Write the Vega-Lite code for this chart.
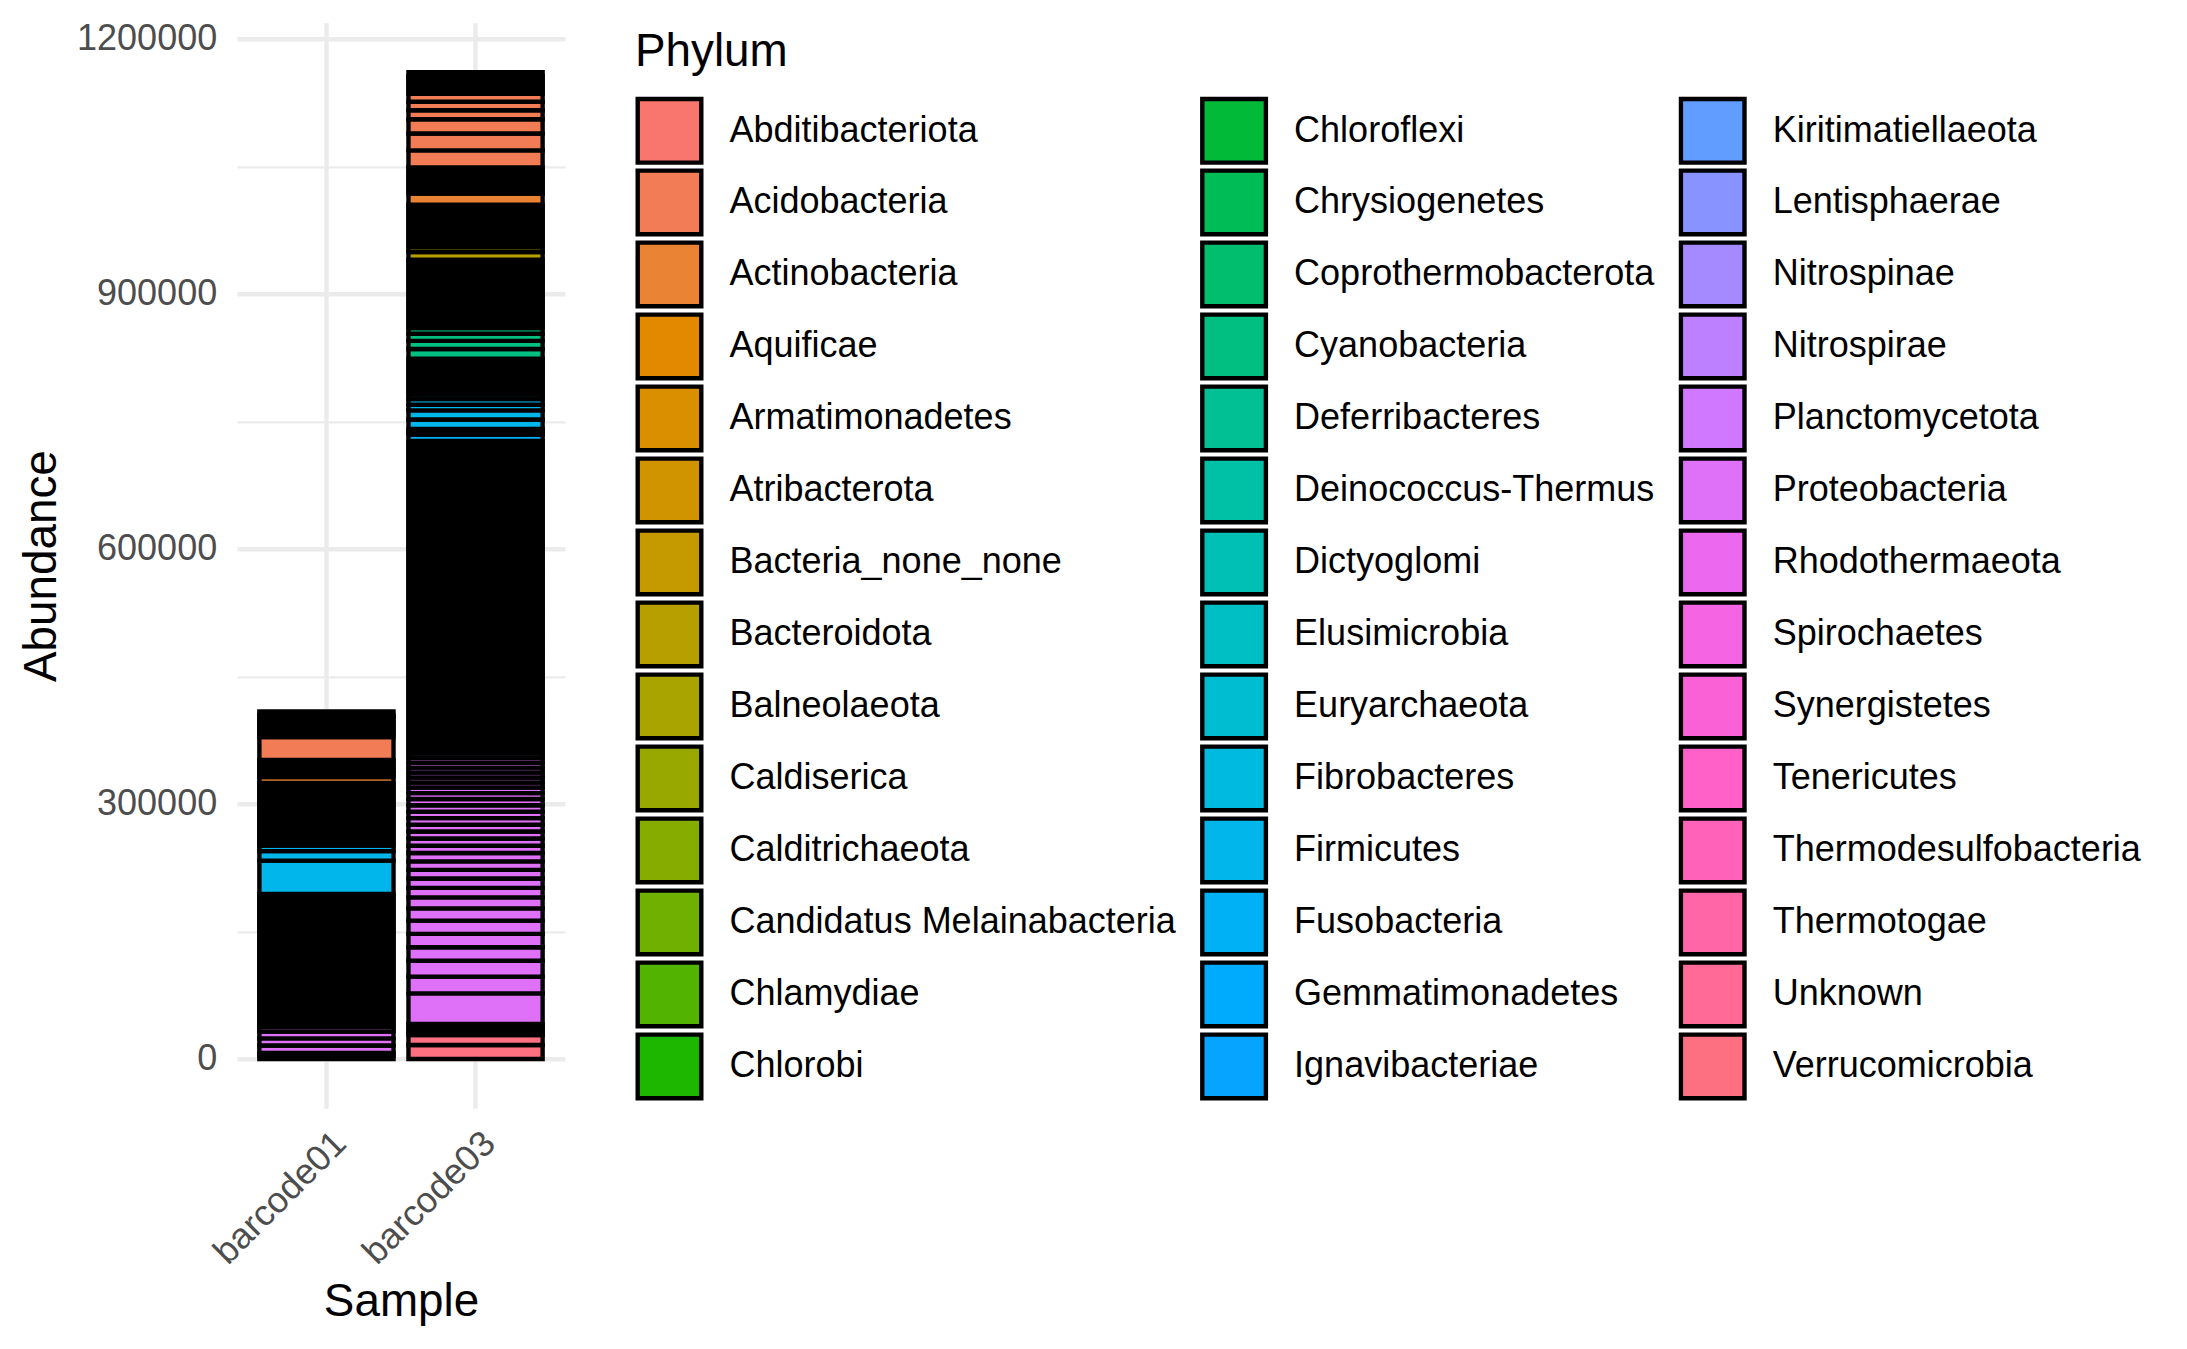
{
"$schema": "https://vega.github.io/schema/vega-lite/v6.json",
"width": 328,
"height": 1085.5,
"autosize": {"type": "none"},
"padding": {"left": 237, "top": 22.8, "right": 1622, "bottom": 240.7},
"background": "white",
"config": {"font": "Liberation Sans", "view": {"stroke": null}},
"data": {"values": [
{"Sample":"barcode03","Phylum":"Verrucomicrobia","Abundance":16353},
{"Sample":"barcode03","Phylum":"Verrucomicrobia","Abundance":11765},
{"Sample":"barcode03","Phylum":"Verrucomicrobia","Abundance":4392},
{"Sample":"barcode03","Phylum":"Unknown","Abundance":4392},
{"Sample":"barcode03","Phylum":"Spirochaetes","Abundance":4392},
{"Sample":"barcode03","Phylum":"Proteobacteria","Abundance":35883},
{"Sample":"barcode03","Phylum":"Proteobacteria","Abundance":19648},
{"Sample":"barcode03","Phylum":"Proteobacteria","Abundance":18706},
{"Sample":"barcode03","Phylum":"Proteobacteria","Abundance":15883},
{"Sample":"barcode03","Phylum":"Proteobacteria","Abundance":15765},
{"Sample":"barcode03","Phylum":"Proteobacteria","Abundance":15530},
{"Sample":"barcode03","Phylum":"Proteobacteria","Abundance":14471},
{"Sample":"barcode03","Phylum":"Proteobacteria","Abundance":12942},
{"Sample":"barcode03","Phylum":"Proteobacteria","Abundance":11177},
{"Sample":"barcode03","Phylum":"Proteobacteria","Abundance":10941},
{"Sample":"barcode03","Phylum":"Proteobacteria","Abundance":10236},
{"Sample":"barcode03","Phylum":"Proteobacteria","Abundance":10000},
{"Sample":"barcode03","Phylum":"Proteobacteria","Abundance":9765},
{"Sample":"barcode03","Phylum":"Proteobacteria","Abundance":8588},
{"Sample":"barcode03","Phylum":"Proteobacteria","Abundance":8471},
{"Sample":"barcode03","Phylum":"Proteobacteria","Abundance":8353},
{"Sample":"barcode03","Phylum":"Proteobacteria","Abundance":7883},
{"Sample":"barcode03","Phylum":"Proteobacteria","Abundance":7765},
{"Sample":"barcode03","Phylum":"Proteobacteria","Abundance":7647},
{"Sample":"barcode03","Phylum":"Proteobacteria","Abundance":7530},
{"Sample":"barcode03","Phylum":"Proteobacteria","Abundance":7412},
{"Sample":"barcode03","Phylum":"Proteobacteria","Abundance":6824},
{"Sample":"barcode03","Phylum":"Proteobacteria","Abundance":6706},
{"Sample":"barcode03","Phylum":"Proteobacteria","Abundance":5883},
{"Sample":"barcode03","Phylum":"Proteobacteria","Abundance":5880},
{"Sample":"barcode03","Phylum":"Proteobacteria","Abundance":5765},
{"Sample":"barcode03","Phylum":"Proteobacteria","Abundance":5760},
{"Sample":"barcode03","Phylum":"Proteobacteria","Abundance":5647},
{"Sample":"barcode03","Phylum":"Proteobacteria","Abundance":5530},
{"Sample":"barcode03","Phylum":"Proteobacteria","Abundance":5412},
{"Sample":"barcode03","Phylum":"Proteobacteria","Abundance":4484},
{"Sample":"barcode03","Phylum":"Proteobacteria","Abundance":4484},
{"Sample":"barcode03","Phylum":"Proteobacteria","Abundance":4484},
{"Sample":"barcode03","Phylum":"Proteobacteria","Abundance":4484},
{"Sample":"barcode03","Phylum":"Proteobacteria","Abundance":4484},
{"Sample":"barcode03","Phylum":"Proteobacteria","Abundance":4484},
{"Sample":"barcode03","Phylum":"Proteobacteria","Abundance":4484},
{"Sample":"barcode03","Phylum":"Proteobacteria","Abundance":4484},
{"Sample":"barcode03","Phylum":"Proteobacteria","Abundance":4484},
{"Sample":"barcode03","Phylum":"Proteobacteria","Abundance":4484},
{"Sample":"barcode03","Phylum":"Proteobacteria","Abundance":4484},
{"Sample":"barcode03","Phylum":"Proteobacteria","Abundance":4484},
{"Sample":"barcode03","Phylum":"Proteobacteria","Abundance":4484},
{"Sample":"barcode03","Phylum":"Proteobacteria","Abundance":4484},
{"Sample":"barcode03","Phylum":"Proteobacteria","Abundance":4484},
{"Sample":"barcode03","Phylum":"Proteobacteria","Abundance":4484},
{"Sample":"barcode03","Phylum":"Proteobacteria","Abundance":4484},
{"Sample":"barcode03","Phylum":"Proteobacteria","Abundance":4484},
{"Sample":"barcode03","Phylum":"Proteobacteria","Abundance":4484},
{"Sample":"barcode03","Phylum":"Proteobacteria","Abundance":4484},
{"Sample":"barcode03","Phylum":"Proteobacteria","Abundance":4484},
{"Sample":"barcode03","Phylum":"Proteobacteria","Abundance":4484},
{"Sample":"barcode03","Phylum":"Proteobacteria","Abundance":4484},
{"Sample":"barcode03","Phylum":"Proteobacteria","Abundance":4484},
{"Sample":"barcode03","Phylum":"Proteobacteria","Abundance":4484},
{"Sample":"barcode03","Phylum":"Proteobacteria","Abundance":4484},
{"Sample":"barcode03","Phylum":"Proteobacteria","Abundance":4484},
{"Sample":"barcode03","Phylum":"Proteobacteria","Abundance":4484},
{"Sample":"barcode03","Phylum":"Proteobacteria","Abundance":4484},
{"Sample":"barcode03","Phylum":"Proteobacteria","Abundance":4484},
{"Sample":"barcode03","Phylum":"Proteobacteria","Abundance":4484},
{"Sample":"barcode03","Phylum":"Proteobacteria","Abundance":4484},
{"Sample":"barcode03","Phylum":"Proteobacteria","Abundance":4484},
{"Sample":"barcode03","Phylum":"Proteobacteria","Abundance":4484},
{"Sample":"barcode03","Phylum":"Proteobacteria","Abundance":4484},
{"Sample":"barcode03","Phylum":"Proteobacteria","Abundance":4484},
{"Sample":"barcode03","Phylum":"Proteobacteria","Abundance":4484},
{"Sample":"barcode03","Phylum":"Proteobacteria","Abundance":4484},
{"Sample":"barcode03","Phylum":"Proteobacteria","Abundance":4484},
{"Sample":"barcode03","Phylum":"Proteobacteria","Abundance":4484},
{"Sample":"barcode03","Phylum":"Proteobacteria","Abundance":4484},
{"Sample":"barcode03","Phylum":"Proteobacteria","Abundance":4484},
{"Sample":"barcode03","Phylum":"Proteobacteria","Abundance":4484},
{"Sample":"barcode03","Phylum":"Proteobacteria","Abundance":4484},
{"Sample":"barcode03","Phylum":"Proteobacteria","Abundance":4484},
{"Sample":"barcode03","Phylum":"Proteobacteria","Abundance":4484},
{"Sample":"barcode03","Phylum":"Proteobacteria","Abundance":4484},
{"Sample":"barcode03","Phylum":"Proteobacteria","Abundance":4484},
{"Sample":"barcode03","Phylum":"Proteobacteria","Abundance":4484},
{"Sample":"barcode03","Phylum":"Proteobacteria","Abundance":4484},
{"Sample":"barcode03","Phylum":"Planctomycetota","Abundance":4484},
{"Sample":"barcode03","Phylum":"Planctomycetota","Abundance":4484},
{"Sample":"barcode03","Phylum":"Planctomycetota","Abundance":4484},
{"Sample":"barcode03","Phylum":"Planctomycetota","Abundance":4484},
{"Sample":"barcode03","Phylum":"Planctomycetota","Abundance":4484},
{"Sample":"barcode03","Phylum":"Planctomycetota","Abundance":4484},
{"Sample":"barcode03","Phylum":"Planctomycetota","Abundance":4484},
{"Sample":"barcode03","Phylum":"Planctomycetota","Abundance":4484},
{"Sample":"barcode03","Phylum":"Nitrospirae","Abundance":4484},
{"Sample":"barcode03","Phylum":"Nitrospirae","Abundance":4484},
{"Sample":"barcode03","Phylum":"Nitrospirae","Abundance":4484},
{"Sample":"barcode03","Phylum":"Nitrospirae","Abundance":4484},
{"Sample":"barcode03","Phylum":"Nitrospirae","Abundance":4484},
{"Sample":"barcode03","Phylum":"Nitrospirae","Abundance":4484},
{"Sample":"barcode03","Phylum":"Nitrospinae","Abundance":4484},
{"Sample":"barcode03","Phylum":"Nitrospinae","Abundance":4484},
{"Sample":"barcode03","Phylum":"Lentisphaerae","Abundance":4484},
{"Sample":"barcode03","Phylum":"Lentisphaerae","Abundance":4484},
{"Sample":"barcode03","Phylum":"Kiritimatiellaeota","Abundance":4484},
{"Sample":"barcode03","Phylum":"Kiritimatiellaeota","Abundance":4484},
{"Sample":"barcode03","Phylum":"Kiritimatiellaeota","Abundance":4484},
{"Sample":"barcode03","Phylum":"Kiritimatiellaeota","Abundance":4484},
{"Sample":"barcode03","Phylum":"Ignavibacteriae","Abundance":4484},
{"Sample":"barcode03","Phylum":"Ignavibacteriae","Abundance":4484},
{"Sample":"barcode03","Phylum":"Ignavibacteriae","Abundance":4484},
{"Sample":"barcode03","Phylum":"Ignavibacteriae","Abundance":4484},
{"Sample":"barcode03","Phylum":"Gemmatimonadetes","Abundance":4484},
{"Sample":"barcode03","Phylum":"Gemmatimonadetes","Abundance":4484},
{"Sample":"barcode03","Phylum":"Gemmatimonadetes","Abundance":4484},
{"Sample":"barcode03","Phylum":"Gemmatimonadetes","Abundance":4484},
{"Sample":"barcode03","Phylum":"Gemmatimonadetes","Abundance":4484},
{"Sample":"barcode03","Phylum":"Gemmatimonadetes","Abundance":4484},
{"Sample":"barcode03","Phylum":"Fusobacteria","Abundance":7530},
{"Sample":"barcode03","Phylum":"Fusobacteria","Abundance":3294},
{"Sample":"barcode03","Phylum":"Fusobacteria","Abundance":3294},
{"Sample":"barcode03","Phylum":"Firmicutes","Abundance":11177},
{"Sample":"barcode03","Phylum":"Firmicutes","Abundance":10824},
{"Sample":"barcode03","Phylum":"Firmicutes","Abundance":6588},
{"Sample":"barcode03","Phylum":"Firmicutes","Abundance":6580},
{"Sample":"barcode03","Phylum":"Firmicutes","Abundance":5412},
{"Sample":"barcode03","Phylum":"Firmicutes","Abundance":4680},
{"Sample":"barcode03","Phylum":"Firmicutes","Abundance":4680},
{"Sample":"barcode03","Phylum":"Firmicutes","Abundance":4680},
{"Sample":"barcode03","Phylum":"Fibrobacteres","Abundance":4680},
{"Sample":"barcode03","Phylum":"Euryarchaeota","Abundance":4680},
{"Sample":"barcode03","Phylum":"Euryarchaeota","Abundance":4680},
{"Sample":"barcode03","Phylum":"Elusimicrobia","Abundance":4680},
{"Sample":"barcode03","Phylum":"Dictyoglomi","Abundance":4680},
{"Sample":"barcode03","Phylum":"Deferribacteres","Abundance":4680},
{"Sample":"barcode03","Phylum":"Cyanobacteria","Abundance":11412},
{"Sample":"barcode03","Phylum":"Cyanobacteria","Abundance":9647},
{"Sample":"barcode03","Phylum":"Cyanobacteria","Abundance":8412},
{"Sample":"barcode03","Phylum":"Cyanobacteria","Abundance":6588},
{"Sample":"barcode03","Phylum":"Cyanobacteria","Abundance":4730},
{"Sample":"barcode03","Phylum":"Cyanobacteria","Abundance":4730},
{"Sample":"barcode03","Phylum":"Cyanobacteria","Abundance":4730},
{"Sample":"barcode03","Phylum":"Cyanobacteria","Abundance":4730},
{"Sample":"barcode03","Phylum":"Coprothermobacterota","Abundance":4730},
{"Sample":"barcode03","Phylum":"Chrysiogenetes","Abundance":4730},
{"Sample":"barcode03","Phylum":"Chloroflexi","Abundance":4730},
{"Sample":"barcode03","Phylum":"Chloroflexi","Abundance":4730},
{"Sample":"barcode03","Phylum":"Chloroflexi","Abundance":4730},
{"Sample":"barcode03","Phylum":"Chloroflexi","Abundance":4730},
{"Sample":"barcode03","Phylum":"Chlorobi","Abundance":4730},
{"Sample":"barcode03","Phylum":"Chlorobi","Abundance":4730},
{"Sample":"barcode03","Phylum":"Chlamydiae","Abundance":4730},
{"Sample":"barcode03","Phylum":"Candidatus Melainabacteria","Abundance":4730},
{"Sample":"barcode03","Phylum":"Calditrichaeota","Abundance":4730},
{"Sample":"barcode03","Phylum":"Caldiserica","Abundance":4730},
{"Sample":"barcode03","Phylum":"Balneolaeota","Abundance":4730},
{"Sample":"barcode03","Phylum":"Bacteroidota","Abundance":9177},
{"Sample":"barcode03","Phylum":"Bacteroidota","Abundance":5765},
{"Sample":"barcode03","Phylum":"Bacteroidota","Abundance":4524},
{"Sample":"barcode03","Phylum":"Bacteroidota","Abundance":4524},
{"Sample":"barcode03","Phylum":"Bacteroidota","Abundance":4524},
{"Sample":"barcode03","Phylum":"Bacteroidota","Abundance":4524},
{"Sample":"barcode03","Phylum":"Bacteroidota","Abundance":4524},
{"Sample":"barcode03","Phylum":"Bacteria_none_none","Abundance":4524},
{"Sample":"barcode03","Phylum":"Bacteria_none_none","Abundance":4524},
{"Sample":"barcode03","Phylum":"Bacteria_none_none","Abundance":4524},
{"Sample":"barcode03","Phylum":"Atribacterota","Abundance":4524},
{"Sample":"barcode03","Phylum":"Armatimonadetes","Abundance":4524},
{"Sample":"barcode03","Phylum":"Aquificae","Abundance":4524},
{"Sample":"barcode03","Phylum":"Actinobacteria","Abundance":13059},
{"Sample":"barcode03","Phylum":"Actinobacteria","Abundance":4420},
{"Sample":"barcode03","Phylum":"Actinobacteria","Abundance":4420},
{"Sample":"barcode03","Phylum":"Actinobacteria","Abundance":4420},
{"Sample":"barcode03","Phylum":"Actinobacteria","Abundance":4420},
{"Sample":"barcode03","Phylum":"Actinobacteria","Abundance":4420},
{"Sample":"barcode03","Phylum":"Actinobacteria","Abundance":4420},
{"Sample":"barcode03","Phylum":"Actinobacteria","Abundance":4420},
{"Sample":"barcode03","Phylum":"Acidobacteria","Abundance":20000},
{"Sample":"barcode03","Phylum":"Acidobacteria","Abundance":19765},
{"Sample":"barcode03","Phylum":"Acidobacteria","Abundance":16824},
{"Sample":"barcode03","Phylum":"Acidobacteria","Abundance":10588},
{"Sample":"barcode03","Phylum":"Acidobacteria","Abundance":10059},
{"Sample":"barcode03","Phylum":"Acidobacteria","Abundance":9235},
{"Sample":"barcode03","Phylum":"Acidobacteria","Abundance":4235},
{"Sample":"barcode03","Phylum":"Acidobacteria","Abundance":4235},
{"Sample":"barcode03","Phylum":"Acidobacteria","Abundance":4235},
{"Sample":"barcode03","Phylum":"Acidobacteria","Abundance":4235},
{"Sample":"barcode03","Phylum":"Abditibacteriota","Abundance":4235},
{"Sample":"barcode03","Phylum":"Abditibacteriota","Abundance":4235},
{"Sample":"barcode01","Phylum":"Verrucomicrobia","Abundance":3588},
{"Sample":"barcode01","Phylum":"Unknown","Abundance":3588},
{"Sample":"barcode01","Phylum":"Proteobacteria","Abundance":8588},
{"Sample":"barcode01","Phylum":"Proteobacteria","Abundance":8471},
{"Sample":"barcode01","Phylum":"Proteobacteria","Abundance":8000},
{"Sample":"barcode01","Phylum":"Proteobacteria","Abundance":5647},
{"Sample":"barcode01","Phylum":"Proteobacteria","Abundance":4599},
{"Sample":"barcode01","Phylum":"Proteobacteria","Abundance":4599},
{"Sample":"barcode01","Phylum":"Proteobacteria","Abundance":4599},
{"Sample":"barcode01","Phylum":"Proteobacteria","Abundance":4599},
{"Sample":"barcode01","Phylum":"Proteobacteria","Abundance":4599},
{"Sample":"barcode01","Phylum":"Proteobacteria","Abundance":4599},
{"Sample":"barcode01","Phylum":"Proteobacteria","Abundance":4599},
{"Sample":"barcode01","Phylum":"Proteobacteria","Abundance":4599},
{"Sample":"barcode01","Phylum":"Proteobacteria","Abundance":4599},
{"Sample":"barcode01","Phylum":"Proteobacteria","Abundance":4599},
{"Sample":"barcode01","Phylum":"Proteobacteria","Abundance":4599},
{"Sample":"barcode01","Phylum":"Proteobacteria","Abundance":4599},
{"Sample":"barcode01","Phylum":"Proteobacteria","Abundance":4599},
{"Sample":"barcode01","Phylum":"Proteobacteria","Abundance":4599},
{"Sample":"barcode01","Phylum":"Proteobacteria","Abundance":4599},
{"Sample":"barcode01","Phylum":"Proteobacteria","Abundance":4599},
{"Sample":"barcode01","Phylum":"Proteobacteria","Abundance":4599},
{"Sample":"barcode01","Phylum":"Proteobacteria","Abundance":4599},
{"Sample":"barcode01","Phylum":"Proteobacteria","Abundance":4599},
{"Sample":"barcode01","Phylum":"Proteobacteria","Abundance":4599},
{"Sample":"barcode01","Phylum":"Proteobacteria","Abundance":4599},
{"Sample":"barcode01","Phylum":"Proteobacteria","Abundance":4599},
{"Sample":"barcode01","Phylum":"Proteobacteria","Abundance":4599},
{"Sample":"barcode01","Phylum":"Proteobacteria","Abundance":4599},
{"Sample":"barcode01","Phylum":"Planctomycetota","Abundance":4599},
{"Sample":"barcode01","Phylum":"Planctomycetota","Abundance":4599},
{"Sample":"barcode01","Phylum":"Planctomycetota","Abundance":4599},
{"Sample":"barcode01","Phylum":"Nitrospirae","Abundance":4599},
{"Sample":"barcode01","Phylum":"Nitrospirae","Abundance":4599},
{"Sample":"barcode01","Phylum":"Kiritimatiellaeota","Abundance":4599},
{"Sample":"barcode01","Phylum":"Ignavibacteriae","Abundance":4599},
{"Sample":"barcode01","Phylum":"Gemmatimonadetes","Abundance":4599},
{"Sample":"barcode01","Phylum":"Gemmatimonadetes","Abundance":4599},
{"Sample":"barcode01","Phylum":"Fusobacteria","Abundance":4599},
{"Sample":"barcode01","Phylum":"Firmicutes","Abundance":39118},
{"Sample":"barcode01","Phylum":"Firmicutes","Abundance":11118},
{"Sample":"barcode01","Phylum":"Firmicutes","Abundance":6706},
{"Sample":"barcode01","Phylum":"Firmicutes","Abundance":4603},
{"Sample":"barcode01","Phylum":"Firmicutes","Abundance":4603},
{"Sample":"barcode01","Phylum":"Firmicutes","Abundance":4603},
{"Sample":"barcode01","Phylum":"Firmicutes","Abundance":4603},
{"Sample":"barcode01","Phylum":"Firmicutes","Abundance":4603},
{"Sample":"barcode01","Phylum":"Firmicutes","Abundance":4603},
{"Sample":"barcode01","Phylum":"Euryarchaeota","Abundance":4603},
{"Sample":"barcode01","Phylum":"Cyanobacteria","Abundance":4603},
{"Sample":"barcode01","Phylum":"Cyanobacteria","Abundance":4603},
{"Sample":"barcode01","Phylum":"Chloroflexi","Abundance":4603},
{"Sample":"barcode01","Phylum":"Chloroflexi","Abundance":4603},
{"Sample":"barcode01","Phylum":"Chloroflexi","Abundance":4603},
{"Sample":"barcode01","Phylum":"Chlorobi","Abundance":4603},
{"Sample":"barcode01","Phylum":"Bacteroidota","Abundance":4603},
{"Sample":"barcode01","Phylum":"Bacteroidota","Abundance":4603},
{"Sample":"barcode01","Phylum":"Bacteria_none_none","Abundance":4603},
{"Sample":"barcode01","Phylum":"Actinobacteria","Abundance":6824},
{"Sample":"barcode01","Phylum":"Actinobacteria","Abundance":4047},
{"Sample":"barcode01","Phylum":"Actinobacteria","Abundance":4047},
{"Sample":"barcode01","Phylum":"Actinobacteria","Abundance":4047},
{"Sample":"barcode01","Phylum":"Actinobacteria","Abundance":4047},
{"Sample":"barcode01","Phylum":"Actinobacteria","Abundance":4047},
{"Sample":"barcode01","Phylum":"Acidobacteria","Abundance":26824},
{"Sample":"barcode01","Phylum":"Acidobacteria","Abundance":4303},
{"Sample":"barcode01","Phylum":"Acidobacteria","Abundance":4303},
{"Sample":"barcode01","Phylum":"Acidobacteria","Abundance":4303},
{"Sample":"barcode01","Phylum":"Acidobacteria","Abundance":4303},
{"Sample":"barcode01","Phylum":"Acidobacteria","Abundance":4303},
{"Sample":"barcode01","Phylum":"Abditibacteriota","Abundance":4303},
{"Sample":"barcode01","Phylum":"Abditibacteriota","Abundance":4303}
]},
"mark": {"type": "bar", "stroke": "black", "strokeWidth": 4.4},
"encoding": {
"x": {"field": "Sample", "type": "nominal", "scale": {"paddingInner": 0.1, "paddingOuter": 0.15},
 "axis": {"title": "Sample", "labelAngle": -45, "labelAlign": "right", "labelBaseline": "top", "labelPadding": 17, "labelOffset": 2, "labelFontSize": 36, "labelColor": "#4D4D4D", "labelOverlap": false, "grid": true, "gridColor": "#EBEBEB", "gridWidth": 4.4, "bandPosition": 0.5, "domain": false, "ticks": false, "tickSize": 0, "titleFontSize": 45.8, "titleFontWeight": "normal", "titleColor": "black", "titleX": 164, "titleY": 206.7, "titleAlign": "center", "titleBaseline": "alphabetic"}},
"y": {"field": "Abundance", "type": "quantitative", "stack": "zero", "scale": {"domain": [-58050, 1219050], "nice": false, "zero": false},
 "axis": {"title": "Abundance", "values": [0,150000,300000,450000,600000,750000,900000,1050000,1200000], "labelExpr": "datum.value % 300000 === 0 ? format(datum.value, 'd') : ''", "grid": true, "gridColor": "#EBEBEB", "gridWidth": {"condition": {"test": "datum.value % 300000 === 0", "value": 4.4}, "value": 2.2}, "domain": false, "ticks": false, "tickSize": 0, "labelPadding": 20.3, "labelFontSize": 36, "labelColor": "#4D4D4D", "labelOverlap": false, "titleFontSize": 45.8, "titleFontWeight": "normal", "titleColor": "black", "titleAngle": -90, "titleX": -182, "titleY": 542.75, "titleAlign": "center", "titleBaseline": "alphabetic"}},
"color": {"field": "Phylum", "type": "nominal",
 "scale": {"domain": ["Abditibacteriota","Acidobacteria","Actinobacteria","Aquificae","Armatimonadetes","Atribacterota","Bacteria_none_none","Bacteroidota","Balneolaeota","Caldiserica","Calditrichaeota","Candidatus Melainabacteria","Chlamydiae","Chlorobi","Chloroflexi","Chrysiogenetes","Coprothermobacterota","Cyanobacteria","Deferribacteres","Deinococcus-Thermus","Dictyoglomi","Elusimicrobia","Euryarchaeota","Fibrobacteres","Firmicutes","Fusobacteria","Gemmatimonadetes","Ignavibacteriae","Kiritimatiellaeota","Lentisphaerae","Nitrospinae","Nitrospirae","Planctomycetota","Proteobacteria","Rhodothermaeota","Spirochaetes","Synergistetes","Tenericutes","Thermodesulfobacteria","Thermotogae","Unknown","Verrucomicrobia"],
  "range": ["#F8766D","#F27C55","#EB8335","#E38900","#DA8F00","#CF9400","#C49A00","#B79F00","#A9A400","#99A800","#86AC00","#70B000","#53B400","#1DB700","#00BA38","#00BC56","#00BE6D","#00BF81","#00C094","#00C1A5","#00C0B5","#00BFC4","#00BDD2","#00BADF","#00B6EB","#00B1F5","#00ABFD","#06A4FF","#619CFF","#8893FF","#A58AFF","#BD81FF","#D078FF","#DF70F8","#EC69EF","#F564E3","#FB61D7","#FF61C8","#FF63B9","#FF66A8","#FF6B96","#FC7082"]},
 "legend": {"title": "Phylum", "orient": "none", "legendX": 398, "legendY": 7.3, "direction": "vertical", "columns": 3, "symbolLimit": 100, "padding": 0, "titleFontSize": 45.8, "titleFontWeight": "normal", "titleColor": "black", "titlePadding": 18.9, "titleLimit": 1000, "titleAnchor": "start", "labelFontSize": 36, "labelColor": "black", "labelLimit": 1000, "labelOffset": 25.5, "labelBaseline": "middle", "symbolType": "square", "symbolSize": 4045, "symbolStrokeColor": "black", "symbolStrokeWidth": 4.4, "symbolOpacity": 1, "clipHeight": 71.3, "rowPadding": 0, "columnPadding": 23.6}},
"order": [{"field": "Phylum", "sort": "descending"}, {"field": "Abundance", "sort": "descending"}]
}
}
